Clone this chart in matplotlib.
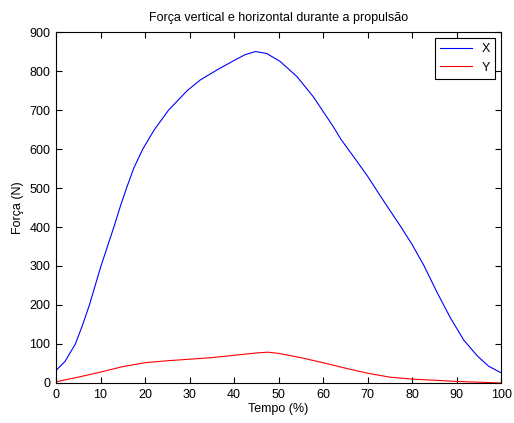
import matplotlib.pyplot as plt

plt.rcParams['font.family'] = ['Liberation Sans', 'DejaVu Sans']

# forca horizontal (X)
tx = [0, 2, 4.35, 6, 7.5, 10.1, 13, 14.5, 16, 17.5, 19.5, 22, 25.3, 29.5, 32.4, 36.5, 40, 42.5,
      44.8, 47.3, 50.3, 54.1, 57.8, 62.3, 64, 67, 70, 73.7, 77.5, 80, 82.7, 85.7, 88.7,
      91.6, 94.6, 97.2, 100]
fx = [32, 55, 100, 150, 200, 300, 400, 455, 505, 552, 600, 648, 700, 750, 777, 805, 827, 842,
      850, 845, 825, 786, 734, 657, 625, 578, 530, 465, 400, 355, 300, 230, 165,
      110, 70, 43, 26]

# forca vertical (Y)
ty = [0, 5, 10, 15, 20, 25, 30, 35, 40, 45, 47.5, 50, 55, 60, 65, 70, 75, 80, 85, 90, 95, 100]
fy = [3, 15, 28, 42, 52, 57, 61, 65, 71, 77, 79, 76, 65, 52, 38, 25, 15, 10, 7, 4, 2, 0]

fig = plt.figure(figsize=(5.14, 4.23), dpi=100)
ax = fig.add_axes([0.109, 0.0946, 0.866, 0.8297])
ax.plot(tx, fx, color='blue', lw=0.8, label='X')
ax.plot(ty, fy, color='red', lw=0.8, label='Y')
ax.set_xlim(0, 100)
ax.set_ylim(0, 900)
ax.set_xticks(range(0, 101, 10))
ax.set_yticks(range(0, 901, 100))
ax.tick_params(direction='in', top=True, right=True, labelsize=9, length=4, width=0.8, pad=4)
for s in ax.spines.values():
    s.set_linewidth(0.8)
ax.set_title('Força vertical e horizontal durante a propulsão', fontsize=9, pad=8)
ax.set_xlabel('Tempo (%)', fontsize=9, labelpad=2)
ax.set_ylabel('Força (N)', fontsize=9, labelpad=4)
leg = ax.legend(loc='upper right', fontsize=9, fancybox=False, framealpha=1,
                edgecolor='black', handlelength=2.5, borderaxespad=0.5)
leg.get_frame().set_linewidth(0.8)

fig.savefig('out.png', dpi=100)
